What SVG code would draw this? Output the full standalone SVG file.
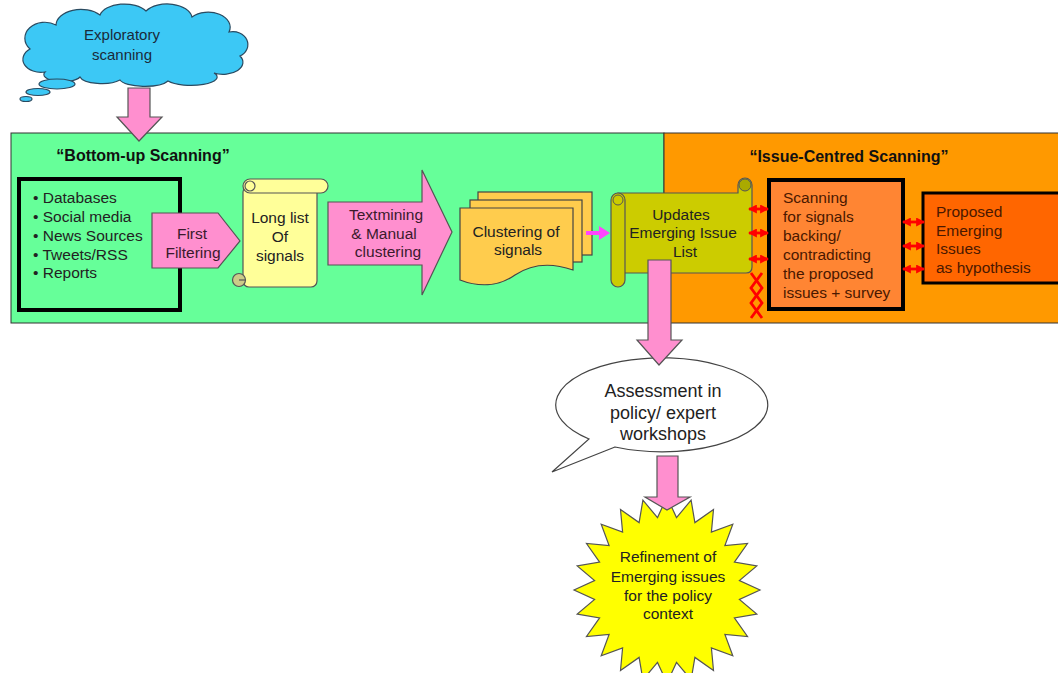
<svg xmlns="http://www.w3.org/2000/svg" width="1058" height="673" viewBox="0 0 1058 673">
<defs>
<style>
text{font-family:"Liberation Sans",Arial,sans-serif;font-size:15.5px;fill:#222}
.c{text-anchor:middle}
.b{font-weight:bold;fill:#111;font-size:16px}
.pink{fill:#FF8FCF;stroke:#555;stroke-width:1.2}
.pt{fill:#3a1a2c}
.ot{fill:#4a1800}
.red{stroke:#FF0000;stroke-width:2.8;fill:none}
</style>
<marker id="rh" viewBox="0 0 8 8" markerWidth="9" markerHeight="9" refX="7" refY="4" orient="auto-start-reverse" markerUnits="userSpaceOnUse">
<path d="M0,0 L8,4 L0,8 z" fill="#FF0000"/>
</marker>
</defs>
<rect width="1058" height="673" fill="#fff"/>

<g id="panels">
<rect x="11" y="133" width="653" height="190" fill="#66FF99" stroke="#333" stroke-width="1"/>
<rect x="664" y="133" width="400" height="190" fill="#FF9900" stroke="#333" stroke-width="1"/>
<text x="143" y="161" class="c b">“Bottom-up Scanning”</text>
<text x="849" y="162" class="c b">“Issue-Centred Scanning”</text>
</g>

<g id="cloud">
<path d="M45,72 A18,13 0 0 1 30,49 A20,16 0 0 1 56,25 A25,16 0 0 1 100,15 A25,14 0 0 1 146,11 A25,15 0 0 1 192,17 A22,15 0 0 1 229,32 A15,13 0 0 1 240,56 A20,12 0 0 1 214,73 A25,8 0 0 1 168,81 A25,8 0 0 1 120,80 A22,8 0 0 1 80,77 A18,7 0 0 1 45,72 Z" fill="#3CC8F5" stroke="#2a4a60" stroke-width="1.2"/>
<ellipse cx="57" cy="84" rx="18" ry="5" fill="#3CC8F5" stroke="#2a4a60" stroke-width="1.2"/>
<ellipse cx="38" cy="92" rx="12" ry="3.5" fill="#3CC8F5" stroke="#2a4a60" stroke-width="1.2"/>
<ellipse cx="26" cy="99" rx="6" ry="2.5" fill="#3CC8F5" stroke="#2a4a60" stroke-width="1.2"/>
<text x="122" y="40" class="c" style="fill:#1a2a3a;font-size:15px">Exploratory</text>
<text x="122" y="60" class="c" style="fill:#1a2a3a;font-size:15px">scanning</text>
</g>

<g id="sources">
<rect x="19" y="179" width="161" height="131" fill="none" stroke="#000" stroke-width="4"/>
<text x="33" y="203">• Databases</text>
<text x="33" y="222">• Social media</text>
<text x="33" y="241">• News Sources</text>
<text x="33" y="260">• Tweets/RSS</text>
<text x="33" y="278">• Reports</text>
</g>

<g id="first-filtering">
<path d="M152,213 L218,213 L240,241 L218,268 L152,268 Z" class="pink"/>
<text x="192" y="239" class="c pt">First</text>
<text x="193" y="258" class="c pt">Filtering</text>
</g>

<g id="long-list">
<rect x="243" y="186" width="74" height="101" rx="6" fill="#FFFF99" stroke="#555" stroke-width="1.2"/>
<rect x="243" y="179" width="85" height="14" rx="7" fill="#FFFF99" stroke="#555" stroke-width="1.2"/>
<circle cx="250" cy="186" r="5" fill="#FFFF99" stroke="#555" stroke-width="1.2"/>
<circle cx="239" cy="280" r="6.5" fill="#CCCC88" stroke="#555" stroke-width="1.2"/>
<path d="M239,280 L245,280" stroke="#555" stroke-width="1.2"/>
<text x="280" y="223" class="c">Long list</text>
<text x="280" y="242" class="c">Of</text>
<text x="280" y="261" class="c">signals</text>
</g>

<g id="textmining">
<path d="M328,202 L422,202 L422,170 L452,232 L422,295 L422,265 L328,265 Z" class="pink"/>
<text x="386" y="220" class="c pt">Textmining</text>
<text x="384" y="239" class="c pt">&amp; Manual</text>
<text x="388" y="257" class="c pt">clustering</text>
</g>

<g id="clustering">
<rect x="478" y="192" width="114" height="63" fill="#FFCC4D" stroke="#444" stroke-width="1.2"/>
<rect x="470" y="200" width="112" height="62" fill="#FFCC4D" stroke="#444" stroke-width="1.2"/>
<path d="M460,208 H573 V270 C550,262 530,265 515,275 C498,287 478,287 460,280 Z" fill="#FFCC4D" stroke="#444" stroke-width="1.2"/>
<text x="516" y="237" class="c">Clustering of</text>
<text x="518" y="255" class="c">signals</text>
</g>

<g id="updates-list">
<path d="M618,193 L738,193 L738,185 A7,7 0 0 1 752,185 L752,267 Q752,273 746,273 L618,273 Z" fill="#CCCC00" stroke="#555" stroke-width="1.2"/>
<circle cx="745" cy="185" r="6" fill="#AAAA00" stroke="#555" stroke-width="1"/>
<rect x="611" y="193" width="14" height="94" rx="7" fill="#CCCC00" stroke="#555" stroke-width="1.2"/>
<circle cx="618" cy="200" r="5" fill="#CCCC00" stroke="#555" stroke-width="1"/>
<text x="681" y="220" class="c">Updates</text>
<text x="683" y="238" class="c">Emerging Issue</text>
<text x="685" y="257" class="c">List</text>
</g>

<g id="scanning">
<rect x="769" y="180" width="134" height="129" fill="#FF8533" stroke="#000" stroke-width="4"/>
<text x="783" y="203" class="ot">Scanning</text>
<text x="783" y="222" class="ot">for signals</text>
<text x="783" y="241" class="ot">backing/</text>
<text x="783" y="260" class="ot">contradicting</text>
<text x="783" y="279" class="ot">the proposed</text>
<text x="783" y="298" class="ot">issues + survey</text>
</g>

<g id="proposed">
<rect x="923" y="193" width="140" height="90" fill="#FF6600" stroke="#000" stroke-width="3"/>
<text x="936" y="217" class="ot">Proposed</text>
<text x="936" y="236" class="ot">Emerging</text>
<text x="936" y="254" class="ot">Issues</text>
<text x="936" y="273" class="ot">as hypothesis</text>
</g>

<g id="assessment">
<path d="M615,447 L552,472 L589,439 A106,47 0 1 1 615,447 Z" fill="#fff" stroke="#444" stroke-width="1.2"/>
<text x="663" y="397" class="c" style="font-size:18px">Assessment in</text>
<text x="663" y="419" class="c" style="font-size:18px">policy/ expert</text>
<text x="663" y="440" class="c" style="font-size:18px">workshops</text>
</g>

<g id="refinement">
<polygon points="667,497 676.5,517.6 691.1,500.2 694.9,522.6 713.5,509.5 711.4,532.1 732.8,524.2 724.9,545.6 747.5,543.5 734.4,562.1 756.8,565.9 739.4,580.5 760,590 739.4,599.5 756.8,614.1 734.4,617.9 747.5,636.5 724.9,634.4 732.8,655.8 711.4,647.9 713.5,670.5 694.9,657.4 691.1,679.8 676.5,662.4 667,683 657.5,662.4 642.9,679.8 639.1,657.4 620.5,670.5 622.6,647.9 601.2,655.8 609.1,634.4 586.5,636.5 599.6,617.9 577.2,614.1 594.6,599.5 574,590 594.6,580.5 577.2,565.9 599.6,562.1 586.5,543.5 609.1,545.6 601.2,524.2 622.6,532.1 620.5,509.5 639.1,522.6 642.9,500.2 657.5,517.6" fill="#FFFF00" stroke="#555" stroke-width="1.2"/>
<text x="668" y="562" class="c">Refinement of</text>
<text x="668" y="582" class="c">Emerging issues</text>
<text x="668" y="601" class="c">for the policy</text>
<text x="668" y="619" class="c">context</text>
</g>

<g id="connectors">
<path d="M128,88 L150,88 L150,117 L162,117 L139,141 L117,117 L128,117 Z" class="pink"/>
<path d="M586,231 L599,231 L599,226 L610,233 L599,240 L599,235 L586,235 Z" fill="#FF44FF"/>
<path d="M648,260 L671,260 L671,340 L682,340 L659,365 L637,340 L648,340 Z" class="pink"/>
<path d="M657,456 L678,456 L678,497 L690,497 L667,510 L645,497 L657,497 Z" class="pink"/>
<line x1="749" y1="209" x2="768" y2="209" class="red" marker-start="url(#rh)" marker-end="url(#rh)"/>
<line x1="749" y1="233" x2="768" y2="233" class="red" marker-start="url(#rh)" marker-end="url(#rh)"/>
<line x1="749" y1="259" x2="768" y2="259" class="red" marker-start="url(#rh)" marker-end="url(#rh)"/>
<line x1="903" y1="222" x2="924" y2="222" class="red" marker-start="url(#rh)" marker-end="url(#rh)"/>
<line x1="903" y1="246" x2="924" y2="246" class="red" marker-start="url(#rh)" marker-end="url(#rh)"/>
<line x1="903" y1="269" x2="924" y2="269" class="red" marker-start="url(#rh)" marker-end="url(#rh)"/>
<polyline points="751,273 762,288 751,303 762,318" class="red" stroke-width="2"/>
<polyline points="762,273 751,288 762,303 751,318" class="red" stroke-width="2"/>
</g>
</svg>
